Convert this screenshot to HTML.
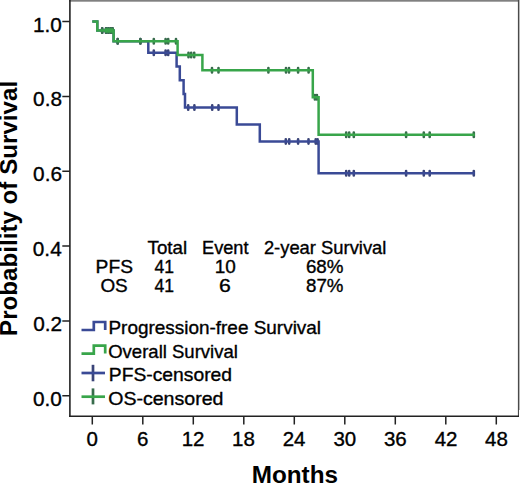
<!DOCTYPE html>
<html><head><meta charset="utf-8"><style>
html,body{margin:0;padding:0;background:#fff;width:520px;height:483px;overflow:hidden;}
svg{display:block;}
text{font-family:"Liberation Sans", sans-serif;}
</style></head><body>
<svg width="520" height="483" viewBox="0 0 520 483">
<rect x="0" y="0" width="520" height="483" fill="#fff"/>
<rect x="69.2" y="0" width="450" height="1.7" fill="#808080"/>
<rect x="519" y="0" width="1" height="410" fill="#b8b8b8"/>
<line x1="518.45" y1="0" x2="518.45" y2="417" stroke="#4a4a4a" stroke-width="1.1"/>
<line x1="69.9" y1="0" x2="69.9" y2="417" stroke="#222" stroke-width="1.6"/>
<line x1="69.1" y1="416.3" x2="519" y2="416.3" stroke="#222" stroke-width="1.6"/>
<path d="M62.3,395.8 H70 M62.3,321.0 H70 M62.3,246.1 H70 M62.3,171.3 H70 M62.3,96.4 H70 M62.3,21.6 H70 " stroke="#222" stroke-width="1.5" fill="none"/>
<path d="M92.3,416 V424.4 M142.8,416 V424.4 M193.3,416 V424.4 M243.8,416 V424.4 M294.3,416 V424.4 M344.8,416 V424.4 M395.3,416 V424.4 M445.8,416 V424.4 M496.3,416 V424.4 " stroke="#222" stroke-width="1.5" fill="none"/>
<g font-family="Liberation Sans" fill="#000" stroke="#000" stroke-width="0.35"><text x="33.00" y="405.80" font-size="20.8">0.0</text><text x="33.23" y="330.96" font-size="20.8">0.2</text><text x="32.79" y="256.12" font-size="20.8">0.4</text><text x="33.10" y="181.28" font-size="20.8">0.6</text><text x="33.09" y="106.44" font-size="20.8">0.8</text><text x="33.00" y="31.60" font-size="20.8">1.0</text><text x="86.60" y="445.8" font-size="20.5">0</text><text x="137.03" y="445.8" font-size="20.5">6</text><text x="181.63" y="445.8" font-size="20.5">12</text><text x="232.06" y="445.8" font-size="20.5">18</text><text x="282.68" y="445.8" font-size="20.5">24</text><text x="333.41" y="445.8" font-size="20.5">30</text><text x="383.96" y="445.8" font-size="20.5">36</text><text x="434.68" y="445.8" font-size="20.5">42</text><text x="485.11" y="445.8" font-size="20.5">48</text><text x="251.68" y="482.80" font-size="24" font-weight="bold" textLength="86.32" lengthAdjust="spacingAndGlyphs" stroke-width="0">Months</text><g transform="translate(16.8,0) rotate(-90)"><text x="-335.92" y="0.00" font-size="24" font-weight="bold" textLength="255.03" lengthAdjust="spacingAndGlyphs" stroke-width="0">Probability of Survival</text></g><text x="147.60" y="253.60" font-size="18.5" textLength="39.49" lengthAdjust="spacingAndGlyphs">Total</text><text x="202.01" y="253.60" font-size="18.5" textLength="46.53" lengthAdjust="spacingAndGlyphs">Event</text><text x="263.88" y="253.60" font-size="18.5" textLength="122.55" lengthAdjust="spacingAndGlyphs">2-year Survival</text><text x="95.62" y="272.90" font-size="18.5" textLength="37.36" lengthAdjust="spacingAndGlyphs">PFS</text><text x="154.50" y="272.90" font-size="18.5" textLength="19.56" lengthAdjust="spacingAndGlyphs">41</text><text x="214.76" y="272.90" font-size="18.5" textLength="21.08" lengthAdjust="spacingAndGlyphs">10</text><text x="305.95" y="272.90" font-size="18.5" textLength="37.52" lengthAdjust="spacingAndGlyphs">68%</text><text x="100.40" y="291.90" font-size="18.5" textLength="27.37" lengthAdjust="spacingAndGlyphs">OS</text><text x="154.50" y="291.90" font-size="18.5" textLength="19.56" lengthAdjust="spacingAndGlyphs">41</text><text x="218.92" y="291.90" font-size="18.5" textLength="11.81" lengthAdjust="spacingAndGlyphs">6</text><text x="306.09" y="291.90" font-size="18.5" textLength="37.38" lengthAdjust="spacingAndGlyphs">87%</text><text x="108.45" y="333.80" font-size="18.5" textLength="212.62" lengthAdjust="spacingAndGlyphs">Progression-free Survival</text><text x="108.22" y="357.60" font-size="18.5" textLength="129.62" lengthAdjust="spacingAndGlyphs">Overall Survival</text><text x="108.82" y="381.20" font-size="18.5" textLength="123.22" lengthAdjust="spacingAndGlyphs">PFS-censored</text><text x="108.17" y="405.40" font-size="18.5" textLength="115.29" lengthAdjust="spacingAndGlyphs">OS-censored</text></g>
<path d="M102.2,28.4 V32.8 M106.0,28.4 V32.8 M108.3,28.4 V32.8 M110.6,28.4 V32.8 M112.6,28.4 V32.8 M117.7,39.0 V43.4 M140.4,39.0 V43.4 M153.8,50.5 V54.9 M165.6,50.5 V54.9 M168.2,50.5 V54.9 M188.2,105.4 V109.8 M194.4,105.4 V109.8 M212.2,105.4 V109.8 M218.5,105.4 V109.8 M285.8,139.2 V143.6 M289.2,139.2 V143.6 M298.1,139.2 V143.6 M308.5,139.2 V143.6 M315.7,139.2 V143.6 M317.6,139.2 V143.6 M346.2,171.1 V175.5 M349.2,171.1 V175.5 M353.8,171.1 V175.5 M406.1,171.1 V175.5 M423.8,171.1 V175.5 M429.7,171.1 V175.5 M473.8,171.1 V175.5 " stroke="#3a4478" stroke-width="2.6" stroke-linecap="round" fill="none"/>
<path d="M92.3,21.6 H97.3 V30.6 H113.6 V41.2 H148.3 V52.7 H176.6 V66.6 H179.8 V80.2 H183.6 V94.1 H185.0 V107.6 H236.8 V124.6 H259.8 V141.4 H318.6 V173.3 H474.8" stroke="#3a4a96" stroke-width="2.5" fill="none" stroke-linejoin="miter" stroke-linecap="butt"/>
<path d="M102.2,28.4 V32.8 M106.0,28.4 V32.8 M108.3,28.4 V32.8 M110.6,28.4 V32.8 M112.6,28.4 V32.8 M117.7,39.0 V43.4 M140.4,39.0 V43.4 M153.8,39.0 V43.4 M165.6,39.0 V43.4 M168.2,39.0 V43.4 M176.0,39.0 V43.4 M188.5,52.8 V57.2 M191.2,52.8 V57.2 M194.2,52.8 V57.2 M212.0,68.1 V72.5 M218.5,68.1 V72.5 M268.4,68.1 V72.5 M286.0,68.1 V72.5 M289.0,68.1 V72.5 M298.1,68.1 V72.5 M308.6,68.1 V72.5 M314.9,95.1 V99.5 M316.9,95.1 V99.5 M346.2,132.6 V137.0 M349.2,132.6 V137.0 M353.8,132.6 V137.0 M406.1,132.6 V137.0 M423.8,132.6 V137.0 M429.7,132.6 V137.0 M473.8,132.6 V137.0 " stroke="#386c4c" stroke-width="2.6" stroke-linecap="round" fill="none"/>
<path d="M92.3,21.6 H97.3 V30.6 H113.6 V41.2 H177.6 V55.0 H202.4 V70.3 H312.8 V97.3 H318.6 V134.8 H474.8" stroke="#38a54a" stroke-width="2.5" fill="none" stroke-linejoin="miter" stroke-linecap="butt"/>
<rect x="104.8" y="28.2" width="8.6" height="4.6" fill="#38a54a" opacity="0.85"/>
<path d="M81.5,330 H93.8 V322 H105.2 V330" stroke="#3a4a96" stroke-width="2.7" fill="none"/>
<path d="M81.5,353.6 H93.8 V345.6 H105.2 V353.4" stroke="#38a54a" stroke-width="2.7" fill="none"/>
<path d="M93,364.8 V381.3" stroke="#3a4478" stroke-width="2.7" fill="none"/>
<path d="M81.5,373 H105" stroke="#3a4a96" stroke-width="2.7" fill="none"/>
<path d="M93,388.4 V404.4" stroke="#386c4c" stroke-width="2.7" fill="none"/>
<path d="M81.5,396.7 H105" stroke="#38a54a" stroke-width="2.7" fill="none"/>
</svg>
</body></html>
